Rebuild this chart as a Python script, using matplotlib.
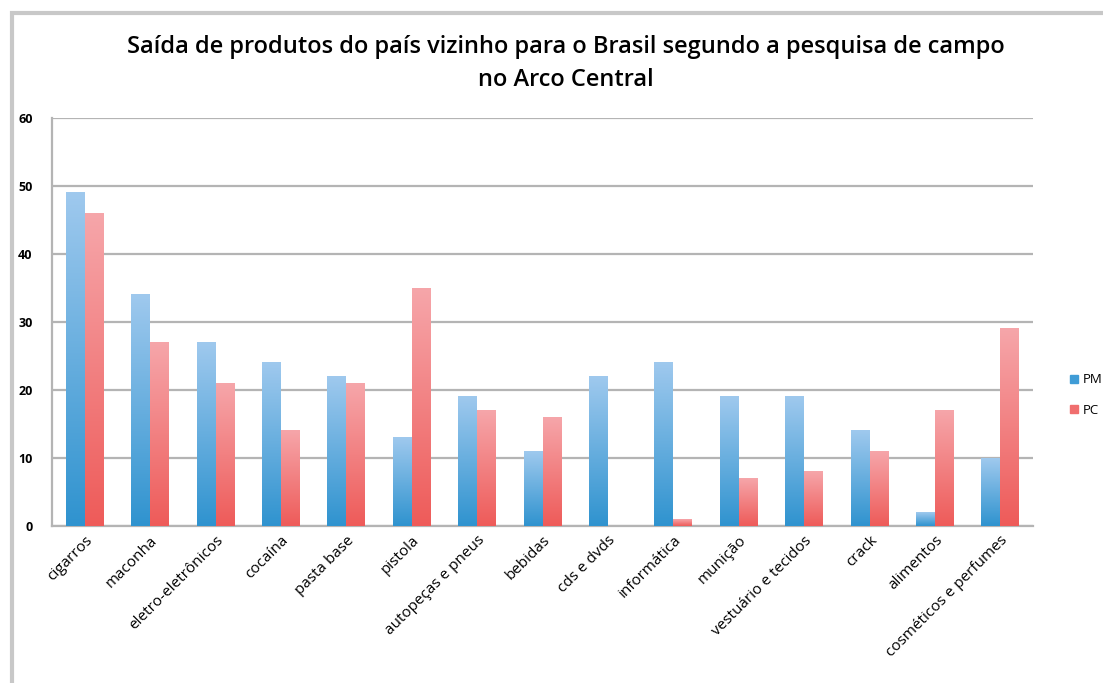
#!/usr/bin/env python3

import numpy as np
import matplotlib
matplotlib.use("Agg")
import matplotlib.pyplot as plt
from matplotlib.colors import LinearSegmentedColormap
from matplotlib.patches import Rectangle

categories = ["cigarros", "maconha", "eletro-eletrônicos", "cocaína", "pasta base",
              "pistola", "autopeças e pneus", "bebidas", "cds e dvds", "informática",
              "munição", "vestuário e tecidos", "crack", "alimentos",
              "cosméticos e perfumes"]
pm_values = [49, 34, 27, 24, 22, 13, 19, 11, 22, 24, 19, 19, 14, 2, 10]
pc_values = [46, 27, 21, 14, 21, 35, 17, 16, 0, 1, 7, 8, 11, 17, 29]
series_names = ["PM", "PC"]
y_ticks = [0, 10, 20, 30, 40, 50, 60]

title = "Saída de produtos do país vizinho para o Brasil segundo a pesquisa de campo\nno Arco Central"

plt.rcParams['font.family'] = ['Open Sans', 'DejaVu Sans']

fig = plt.figure(figsize=(11.03, 6.83), dpi=100)
fig.patch.set_facecolor("white")

# outer frame of the chart (runs off the right and bottom edges)
fig.patches.append(Rectangle((12 / 1103, -0.05), 1.2, (683 - 13) / 683 + 0.05,
                             transform=fig.transFigure, fill=False,
                             edgecolor="#c8c8c8", linewidth=3))

ax = fig.add_axes([52 / 1103, 157 / 683, 981 / 1103, 408 / 683])

blue_cmap = LinearSegmentedColormap.from_list("blue", ["#2f93cf", "#9fc9ee"])
red_cmap = LinearSegmentedColormap.from_list("red", ["#ee5b59", "#f6a6aa"])
gradient = np.linspace(0, 1, 256).reshape(-1, 1)

width = 0.29
x = np.arange(len(categories))

for offset, values, cmap, name in [(-width / 2, pm_values, blue_cmap, series_names[0]),
                                     (width / 2, pc_values, red_cmap, series_names[1])]:
    bars = ax.bar(x + offset, values, width, color="none", edgecolor="none", label=name)
    for b, v in zip(bars, values):
        if v <= 0:
            continue
        x0 = b.get_x()
        ax.imshow(gradient, cmap=cmap, origin="lower", aspect="auto",
                  extent=[x0, x0 + width, 0, v], zorder=3)

ax.set_xlim(-0.5, len(categories) - 0.5)
ax.set_ylim(0, 60)
ax.set_yticks(y_ticks)
ax.set_yticklabels([str(t) for t in y_ticks], fontsize=9, fontweight="bold")
ax.set_xticks(x)
ax.set_xticklabels(categories, rotation=45, ha="right", rotation_mode="anchor",
                   fontsize=11)
ax.tick_params(axis="x", length=0, pad=5)
ax.tick_params(axis="y", length=0, pad=14)

ax.grid(axis="y", color="#b4b4b4", linewidth=1.6, zorder=0)
ax.set_axisbelow(True)
for s in ["top", "right"]:
    ax.spines[s].set_visible(False)
for s in ["left", "bottom"]:
    ax.spines[s].set_color("#b4b4b4")
    ax.spines[s].set_linewidth(1.6)

fig.text(0.5 * (127 + 1005) / 1103, 1 - 35 / 683, title, ha="center", va="top",
         fontsize=17, fontweight="semibold", linespacing=1.5)

# legend
handles = [Rectangle((0, 0), 1, 1, color="#3f9cd6"), Rectangle((0, 0), 1, 1, color="#f06e6e")]
fig.legend(handles, series_names, loc="center left",
           bbox_to_anchor=(1058 / 1103, 1 - 395 / 683), frameon=False,
           fontsize=9.5, handlelength=0.6, handleheight=0.6, handletextpad=0.4,
           labelspacing=1.3)

fig.savefig("out.png", dpi=100)
